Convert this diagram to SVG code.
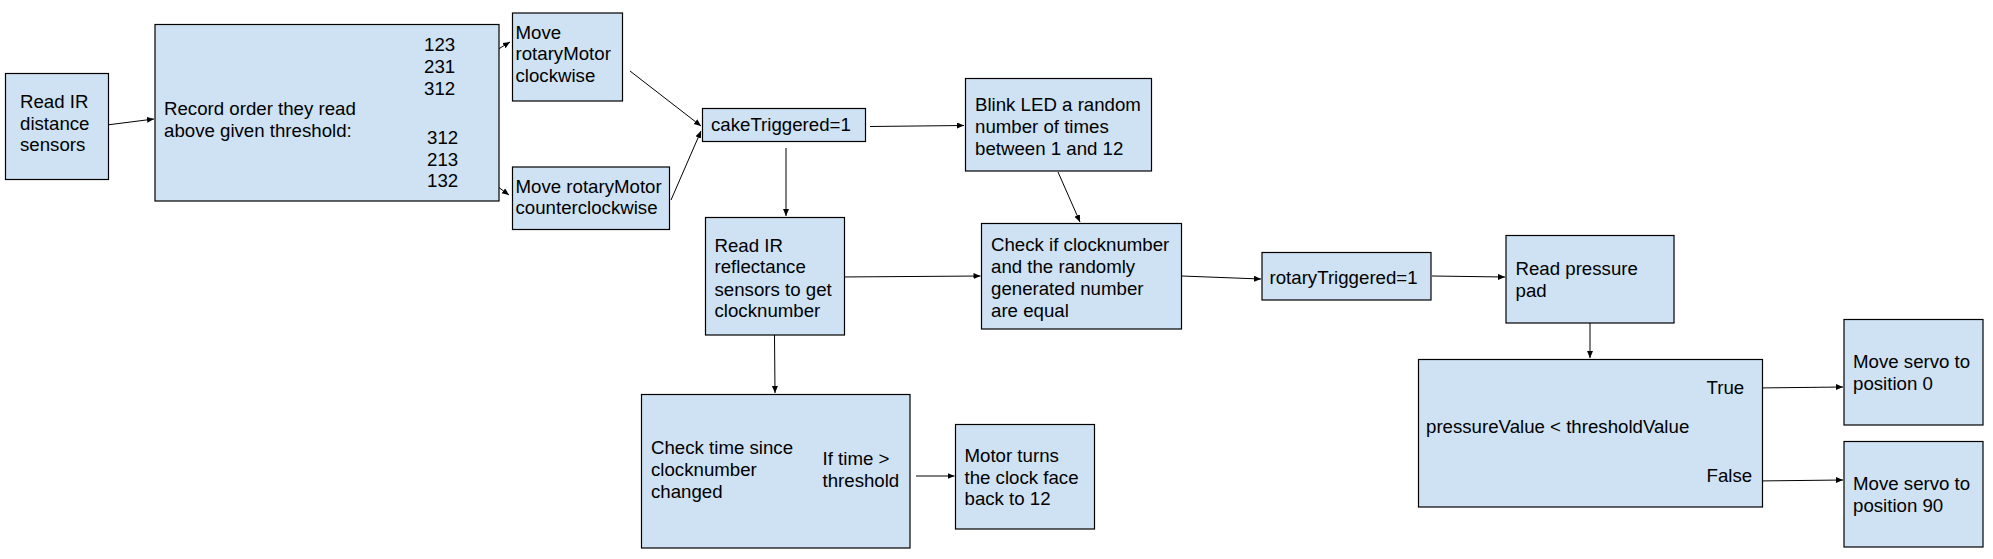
<svg xmlns="http://www.w3.org/2000/svg" width="1993" height="559" viewBox="0 0 1993 559">
<defs>
<style>
.box{fill:#cfe2f3;stroke:#000;stroke-width:1.2}
.t{font-family:"Liberation Sans",Arial,sans-serif;font-size:18.67px;fill:#000}
.c{stroke:#000;stroke-width:1;fill:none;marker-end:url(#ah)}
</style>
<marker id="ah" markerUnits="userSpaceOnUse" markerWidth="8" markerHeight="7" refX="7" refY="3" orient="auto">
<path d="M0,0 L7,3 L0,6 z" fill="#000"/>
</marker>
</defs>
<rect width="1993" height="559" fill="#fff"/>
<g id="connectors">
<line class="c" x1="99" y1="126" x2="154" y2="119"/>
<line class="c" x1="467" y1="68" x2="510" y2="42"/>
<line class="c" x1="478" y1="172" x2="509" y2="195"/>
<line class="c" x1="630" y1="71" x2="701" y2="126"/>
<line class="c" x1="671" y1="200" x2="701" y2="131"/>
<line class="c" x1="870" y1="126.5" x2="964" y2="125.5"/>
<line class="c" x1="786" y1="148" x2="786" y2="216"/>
<line class="c" x1="839" y1="277" x2="980.5" y2="276"/>
<line class="c" x1="1058" y1="172" x2="1080" y2="222"/>
<line class="c" x1="1181.5" y1="276" x2="1261" y2="279"/>
<line class="c" x1="774.5" y1="335" x2="775" y2="393"/>
<line class="c" x1="916" y1="476" x2="954.5" y2="476"/>
<line class="c" x1="1432" y1="276" x2="1505" y2="277"/>
<line class="c" x1="1590" y1="323" x2="1590" y2="358"/>
<line class="c" x1="1755" y1="388" x2="1843" y2="387"/>
<line class="c" x1="1755" y1="481" x2="1843" y2="480"/>
</g>
<g id="readIR">
<rect class="box" x="5.5" y="73.5" width="103" height="106"/>
<text class="t" x="20" y="108">Read IR</text>
<text class="t" x="20" y="129.5">distance</text>
<text class="t" x="20" y="151">sensors</text>
</g>
<g id="record">
<rect class="box" x="155" y="24.5" width="344" height="176.5"/>
<text class="t" x="164" y="115">Record order they read</text>
<text class="t" x="164" y="137">above given threshold:</text>
<text class="t" x="424" y="51">123</text>
<text class="t" x="424" y="73">231</text>
<text class="t" x="424" y="94.5">312</text>
<text class="t" x="427" y="144">312</text>
<text class="t" x="427" y="165.5">213</text>
<text class="t" x="427" y="187">132</text>
</g>
<g id="cw">
<rect class="box" x="512.5" y="13" width="110" height="88"/>
<text class="t" x="515.5" y="38.5">Move</text>
<text class="t" x="515.5" y="60">rotaryMotor</text>
<text class="t" x="515.5" y="81.5">clockwise</text>
</g>
<g id="ccw">
<rect class="box" x="512.5" y="167" width="157" height="62.5"/>
<text class="t" x="515.5" y="192.5">Move rotaryMotor</text>
<text class="t" x="515.5" y="214">counterclockwise</text>
</g>
<g id="cake">
<rect class="box" x="702.5" y="108.5" width="163" height="33"/>
<text class="t" x="711" y="130.5">cakeTriggered=1</text>
</g>
<g id="blink">
<rect class="box" x="965.5" y="78.5" width="186" height="92.5"/>
<text class="t" x="975" y="111">Blink LED a random</text>
<text class="t" x="975" y="133">number of times</text>
<text class="t" x="975" y="154.5">between 1 and 12</text>
</g>
<g id="reflect">
<rect class="box" x="705.5" y="217.5" width="139" height="117.5"/>
<text class="t" x="714.5" y="251.5">Read IR</text>
<text class="t" x="714.5" y="273.3">reflectance</text>
<text class="t" x="714.5" y="295.5">sensors to get</text>
<text class="t" x="714.5" y="317.3">clocknumber</text>
</g>
<g id="check">
<rect class="box" x="981.5" y="223.5" width="200" height="105.5"/>
<text class="t" x="991" y="250.7">Check if clocknumber</text>
<text class="t" x="991" y="272.7">and the randomly</text>
<text class="t" x="991" y="294.5">generated number</text>
<text class="t" x="991" y="316.5">are equal</text>
</g>
<g id="rotary">
<rect class="box" x="1262" y="252.5" width="169" height="47.5"/>
<text class="t" x="1269.5" y="284">rotaryTriggered=1</text>
</g>
<g id="pressurePad">
<rect class="box" x="1506" y="235.5" width="168" height="87.5"/>
<text class="t" x="1515.5" y="275">Read pressure</text>
<text class="t" x="1515.5" y="296.7">pad</text>
</g>
<g id="pressureValue">
<rect class="box" x="1418.5" y="359.5" width="344" height="147.5"/>
<text class="t" x="1426" y="432.5">pressureValue &lt; thresholdValue</text>
<text class="t" x="1706.5" y="393.5">True</text>
<text class="t" x="1706.5" y="481.5">False</text>
</g>
<g id="servo0">
<rect class="box" x="1844" y="319.5" width="139" height="105.5"/>
<text class="t" x="1853" y="368.3">Move servo to</text>
<text class="t" x="1853" y="389.5">position 0</text>
</g>
<g id="servo90">
<rect class="box" x="1844" y="441.5" width="139" height="105.5"/>
<text class="t" x="1853" y="490">Move servo to</text>
<text class="t" x="1853" y="511.7">position 90</text>
</g>
<g id="checkTime">
<rect class="box" x="641.5" y="394.5" width="268.5" height="153.5"/>
<text class="t" x="651" y="454.3">Check time since</text>
<text class="t" x="651" y="476">clocknumber</text>
<text class="t" x="651" y="497.7">changed</text>
<text class="t" x="822.5" y="465">If time &gt;</text>
<text class="t" x="822.5" y="486.7">threshold</text>
</g>
<g id="motor">
<rect class="box" x="955.5" y="424.5" width="139" height="104.5"/>
<text class="t" x="964.5" y="462">Motor turns</text>
<text class="t" x="964.5" y="483.7">the clock face</text>
<text class="t" x="964.5" y="505.3">back to 12</text>
</g>
</svg>
